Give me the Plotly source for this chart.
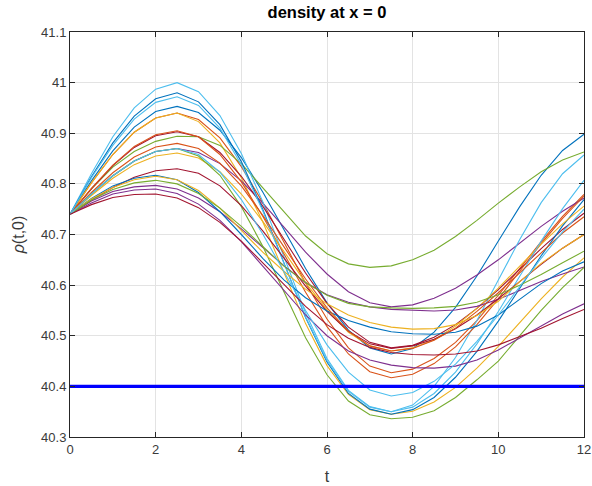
import plotly.graph_objects as go

# time samples
t = [0, 0.5, 1, 1.5, 2, 2.5, 3, 3.5, 4, 4.5, 5, 5.5, 6, 6.5, 7, 7.5, 8, 8.5, 9, 9.5, 10, 10.5, 11, 11.5, 12]

# density curves rho(t, 0)
b_top = [40.740, 40.806, 40.865, 40.912, 40.943, 40.953, 40.941, 40.906, 40.852, 40.784, 40.709, 40.633, 40.565, 40.511, 40.476, 40.464, 40.475, 40.507, 40.556, 40.618, 40.687, 40.755, 40.817, 40.866, 40.898]
o1 = [40.740, 40.802, 40.858, 40.902, 40.930, 40.940, 40.927, 40.891, 40.834, 40.763, 40.684, 40.604, 40.533, 40.476, 40.440, 40.427, 40.434, 40.455, 40.487, 40.530, 40.580, 40.633, 40.686, 40.736, 40.779]
y_d = [40.740, 40.802, 40.858, 40.902, 40.930, 40.940, 40.923, 40.881, 40.812, 40.725, 40.624, 40.524, 40.441, 40.384, 40.354, 40.345, 40.351, 40.369, 40.398, 40.436, 40.479, 40.526, 40.573, 40.616, 40.654]
p1 = [40.740, 40.780, 40.816, 40.845, 40.864, 40.870, 40.862, 40.840, 40.806, 40.762, 40.714, 40.665, 40.622, 40.587, 40.565, 40.557, 40.561, 40.574, 40.594, 40.620, 40.650, 40.683, 40.716, 40.746, 40.772]
g1 = [40.740, 40.790, 40.833, 40.864, 40.884, 40.894, 40.893, 40.876, 40.840, 40.792, 40.743, 40.697, 40.662, 40.642, 40.635, 40.638, 40.650, 40.669, 40.696, 40.728, 40.762, 40.794, 40.824, 40.847, 40.863]
lb_d1 = [40.740, 40.820, 40.893, 40.950, 40.987, 41.000, 40.982, 40.935, 40.860, 40.765, 40.655, 40.545, 40.455, 40.392, 40.360, 40.350, 40.363, 40.400, 40.457, 40.530, 40.610, 40.690, 40.763, 40.820, 40.857]
r_a = [40.740, 40.790, 40.836, 40.872, 40.895, 40.903, 40.893, 40.862, 40.815, 40.756, 40.690, 40.624, 40.564, 40.517, 40.487, 40.476, 40.481, 40.497, 40.522, 40.554, 40.591, 40.632, 40.672, 40.710, 40.742]

b_d = [40.740, 40.814, 40.881, 40.934, 40.968, 40.980, 40.962, 40.917, 40.844, 40.750, 40.643, 40.536, 40.448, 40.386, 40.355, 40.345, 40.354, 40.378, 40.418, 40.469, 40.529, 40.593, 40.658, 40.717, 40.769]
o2 = [40.740, 40.791, 40.837, 40.874, 40.897, 40.905, 40.893, 40.858, 40.804, 40.736, 40.661, 40.586, 40.518, 40.464, 40.429, 40.417, 40.424, 40.445, 40.478, 40.522, 40.573, 40.627, 40.682, 40.732, 40.776]
y_b = [40.740, 40.777, 40.811, 40.838, 40.855, 40.861, 40.851, 40.824, 40.780, 40.726, 40.666, 40.605, 40.551, 40.507, 40.480, 40.470, 40.476, 40.492, 40.519, 40.554, 40.594, 40.637, 40.681, 40.721, 40.756]
p2 = [40.740, 40.766, 40.785, 40.794, 40.797, 40.790, 40.772, 40.745, 40.711, 40.675, 40.638, 40.605, 40.581, 40.566, 40.557, 40.552, 40.550, 40.549, 40.551, 40.558, 40.572, 40.590, 40.607, 40.622, 40.636]
g_d = [40.740, 40.780, 40.816, 40.845, 40.864, 40.870, 40.855, 40.817, 40.755, 40.677, 40.586, 40.496, 40.423, 40.371, 40.344, 40.336, 40.339, 40.352, 40.378, 40.413, 40.450, 40.500, 40.550, 40.595, 40.635]
lb_d2 = [40.740, 40.812, 40.876, 40.928, 40.961, 40.972, 40.955, 40.910, 40.838, 40.747, 40.642, 40.537, 40.451, 40.390, 40.359, 40.350, 40.359, 40.386, 40.428, 40.484, 40.548, 40.617, 40.687, 40.751, 40.807]
r2 = [40.740, 40.768, 40.793, 40.813, 40.826, 40.830, 40.821, 40.796, 40.757, 40.707, 40.653, 40.598, 40.548, 40.509, 40.484, 40.475, 40.480, 40.493, 40.514, 40.541, 40.573, 40.607, 40.641, 40.673, 40.700]

b_a = [40.740, 40.771, 40.796, 40.811, 40.817, 40.808, 40.783, 40.745, 40.700, 40.653, 40.610, 40.575, 40.549, 40.530, 40.517, 40.508, 40.504, 40.503, 40.507, 40.519, 40.541, 40.572, 40.603, 40.628, 40.646]
o3 = [40.740, 40.783, 40.822, 40.853, 40.873, 40.880, 40.870, 40.841, 40.796, 40.738, 40.675, 40.612, 40.555, 40.509, 40.480, 40.470, 40.475, 40.491, 40.515, 40.548, 40.585, 40.625, 40.665, 40.703, 40.735]
y_a = [40.740, 40.770, 40.793, 40.808, 40.815, 40.808, 40.787, 40.752, 40.708, 40.665, 40.627, 40.592, 40.563, 40.541, 40.526, 40.517, 40.513, 40.514, 40.522, 40.540, 40.568, 40.607, 40.643, 40.673, 40.700]
p3 = [40.740, 40.762, 40.780, 40.788, 40.790, 40.781, 40.760, 40.728, 40.686, 40.637, 40.588, 40.541, 40.500, 40.470, 40.452, 40.442, 40.437, 40.436, 40.440, 40.452, 40.472, 40.496, 40.520, 40.543, 40.563]
g2 = [40.740, 40.768, 40.789, 40.802, 40.807, 40.800, 40.781, 40.752, 40.716, 40.676, 40.637, 40.605, 40.580, 40.564, 40.557, 40.555, 40.554, 40.555, 40.558, 40.566, 40.581, 40.600, 40.621, 40.644, 40.667]
lb_sh = [40.740, 40.780, 40.816, 40.845, 40.864, 40.870, 40.858, 40.823, 40.769, 40.701, 40.626, 40.550, 40.482, 40.428, 40.393, 40.381, 40.388, 40.410, 40.444, 40.489, 40.541, 40.597, 40.653, 40.705, 40.750]
r_low = [40.740, 40.759, 40.773, 40.779, 40.780, 40.772, 40.753, 40.724, 40.687, 40.644, 40.600, 40.558, 40.522, 40.495, 40.477, 40.467, 40.463, 40.462, 40.464, 40.470, 40.482, 40.498, 40.515, 40.534, 40.552]

# reference level
t_ref = [0, 12]
rho_ref = [40.4, 40.4]

# tick labels
y_tickvals = [40.3, 40.4, 40.5, 40.6, 40.7, 40.8, 40.9, 41.0, 41.1]
y_ticktext = ["40.3", "40.4", "40.5", "40.6", "40.7", "40.8", "40.9", "41", "41.1"]
x_tickvals = [0, 2, 4, 6, 8, 10, 12]

series = [b_top, o1, y_d, p1, g1, lb_d1, r_a,
          b_d, o2, y_b, p2, g_d, lb_d2, r2,
          b_a, o3, y_a, p3, g2, lb_sh, r_low]
palette = ["#0072BD", "#D95319", "#EDB120", "#7E2F8E", "#77AC30", "#4DBEEE", "#A2142F"]

FONT = "Liberation Sans, Arial, Helvetica, sans-serif"

fig = go.Figure()
for i, ys in enumerate(series):
    fig.add_trace(go.Scatter(x=t, y=ys, mode="lines",
                             line=dict(color=palette[i % 7], width=1.1),
                             hoverinfo="skip"))
fig.add_trace(go.Scatter(x=t_ref, y=rho_ref, mode="lines",
                         line=dict(color="#0000FF", width=3.2), hoverinfo="skip"))

axis_common = dict(
    showline=True, linecolor="#262626", linewidth=1, mirror="ticks",
    ticks="inside", ticklen=5, tickcolor="#262626", tickwidth=1,
    showgrid=True, gridcolor="#E3E3E3", gridwidth=1, zeroline=False,
    automargin=False,
    tickfont=dict(family=FONT, size=13, color="#3a3a3a"),
)

fig.update_layout(
    width=592, height=486,
    margin=dict(l=70, r=8, t=32, b=49),
    paper_bgcolor="white", plot_bgcolor="white",
    showlegend=False,
    font=dict(family=FONT, color="#262626"),
    title=dict(text="<b>density at x = 0</b>", x=0.5, xref="paper", xanchor="center",
               y=1 - 12 / 486, yref="container", yanchor="middle",
               font=dict(family=FONT, size=16.5, color="#000000")),
    xaxis=dict(range=[0, 12], tickvals=x_tickvals,
               title=dict(text="t", standoff=15,
                          font=dict(family=FONT, size=16, color="#3a3a3a")),
               **axis_common),
    yaxis=dict(range=[40.3, 41.1], tickvals=y_tickvals, ticktext=y_ticktext,
               title=dict(text="<i>ρ</i>(t,0)", standoff=12,
                          font=dict(family=FONT, size=16, color="#3a3a3a")),
               **axis_common),
)

fig.write_html("out.html", config={"displayModeBar": False},
               post_script="document.body.style.margin='0px';")
